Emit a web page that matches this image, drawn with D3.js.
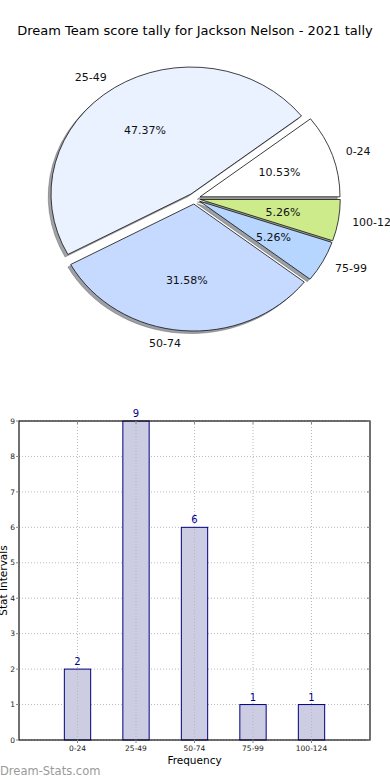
<!DOCTYPE html>
<html lang="en">
<head>
<meta charset="utf-8" />
<script src="https://cdn.jsdelivr.net/npm/d3@7"></script>
<style>
body { margin: 0; background: #fff; }
svg { display: block; font-family: "DejaVu Sans", sans-serif; }
.pieLabel { font-size: 11px; fill: #111; }
.pctLabel { font-size: 11px; fill: #111; text-anchor: middle; }
.grid { stroke: #b8b8b8; stroke-width: 1; stroke-dasharray: 1,2; }
.tickLabel { font-size: 7.5px; fill: #222; }
.barValue { font-size: 10px; fill: #00008b; text-anchor: middle; }
</style>
</head>
<body>
<script>
// data
var categories = ["0-24", "25-49", "50-74", "75-99", "100-124"];
var counts = [2, 9, 6, 1, 1];
var sliceColors = ["#ffffff", "#eaf1ff", "#c6d9ff", "#b6d6ff", "#ceeb8c"];
var yTicks = [0, 1, 2, 3, 4, 5, 6, 7, 8, 9];

var width = 390, height = 780;

var svg = d3.select("body").append("svg")
    .attr("width", width)
    .attr("height", height);

svg.append("text")
    .attr("x", 195).attr("y", 35)
    .attr("text-anchor", "middle")
    .style("font-size", "13px")
    .text("Dream Team score tally for Jackson Nelson - 2021 tally");

// ---- pie (ellipse, like a matplotlib pie on unequal axes)
var cx = 194.3, cy = 198.6, rx = 140, ry = 127, explode = 0.043;
var total = d3.sum(counts);

// matplotlib starts at 3 o'clock and goes counter-clockwise
var pie = d3.pie().sort(null).startAngle(Math.PI / 2).endAngle(Math.PI / 2 - 2 * Math.PI);
var arcs = pie(counts);
var arc = d3.arc().innerRadius(0).outerRadius(ry);

arcs.forEach(function (d, i) {
    var mid = (d.startAngle + d.endAngle) / 2;
    d.dx = Math.sin(mid);
    d.dy = -Math.cos(mid);
    d.ox = cx + explode * rx * d.dx;
    d.oy = cy + explode * ry * d.dy;
    d.name = categories[i];
    d.color = sliceColors[i];
});

var pieG = svg.append("g");

// shadows first
pieG.selectAll(".shadow")
    .data(arcs)
  .enter().append("path")
    .attr("class", "shadow")
    .attr("transform", function (d) {
        return "translate(" + (d.ox - 2.8) + "," + (d.oy + 2.5) + ") scale(" + (rx / ry) + ",1)";
    })
    .attr("d", arc)
    .attr("fill", function (d) {
        var c = d3.rgb(d.color);
        return d3.rgb(c.r * 0.3, c.g * 0.3, c.b * 0.3);
    })
    .attr("fill-opacity", 0.5)
    .attr("stroke", "#555")
    .attr("stroke-opacity", 0.5)
    .attr("stroke-width", 0.8)
    .attr("vector-effect", "non-scaling-stroke");

pieG.selectAll(".slice")
    .data(arcs)
  .enter().append("path")
    .attr("class", "slice")
    .attr("transform", function (d) {
        return "translate(" + d.ox + "," + d.oy + ") scale(" + (rx / ry) + ",1)";
    })
    .attr("d", arc)
    .attr("fill", function (d) { return d.color; })
    .attr("stroke", "#111")
    .attr("stroke-width", 0.8)
    .attr("vector-effect", "non-scaling-stroke");

pieG.selectAll(".pieLabel")
    .data(arcs)
  .enter().append("text")
    .attr("class", "pieLabel")
    .attr("x", function (d) { return d.ox + 1.1 * rx * d.dx; })
    .attr("y", function (d) { return d.oy + 1.1 * ry * d.dy; })
    .attr("dy", "0.35em")
    .attr("text-anchor", function (d) { return d.dx > 0 ? "start" : "end"; })
    .text(function (d) { return d.name; });

pieG.selectAll(".pctLabel")
    .data(arcs)
  .enter().append("text")
    .attr("class", "pctLabel")
    .attr("x", function (d) { return d.ox + 0.6 * rx * d.dx; })
    .attr("y", function (d) { return d.oy + 0.6 * ry * d.dy; })
    .attr("dy", "0.35em")
    .text(function (d) { return (d.value / total * 100).toFixed(2) + "%"; });

// ---- bar chart
var plotLeft = 19, plotRight = 370, plotTop = 421, plotBottom = 740;
var x = d3.scaleLinear().domain([-1, 5]).range([plotLeft, plotRight]);
var y = d3.scaleLinear().domain([0, 9]).range([plotBottom, plotTop]);
var barW = 0.45;

var barG = svg.append("g");

barG.selectAll(".hgrid")
    .data(yTicks)
  .enter().append("line")
    .attr("class", "grid")
    .attr("x1", plotLeft).attr("x2", plotRight)
    .attr("y1", function (d) { return y(d); })
    .attr("y2", function (d) { return y(d); });

barG.selectAll(".bar")
    .data(counts)
  .enter().append("rect")
    .attr("x", function (d, i) { return x(i - barW / 2); })
    .attr("y", function (d) { return y(d); })
    .attr("width", x(barW) - x(0))
    .attr("height", function (d) { return y(0) - y(d); })
    .attr("fill", "#cccce3")
    .attr("stroke", "#000080")
    .attr("stroke-width", 1);

barG.selectAll(".vgrid")
    .data(categories)
  .enter().append("line")
    .attr("class", "grid")
    .attr("y1", plotTop).attr("y2", plotBottom)
    .attr("x1", function (d, i) { return x(i); })
    .attr("x2", function (d, i) { return x(i); });

barG.selectAll(".barValue")
    .data(counts)
  .enter().append("text")
    .attr("class", "barValue")
    .attr("x", function (d, i) { return x(i); })
    .attr("y", function (d) { return y(d) - 4; })
    .text(function (d) { return d; });

// frame
barG.append("rect")
    .attr("x", plotLeft).attr("y", plotTop)
    .attr("width", plotRight - plotLeft).attr("height", plotBottom - plotTop)
    .attr("fill", "none")
    .attr("stroke", "#111")
    .attr("stroke-width", 1.2);

// ticks
yTicks.forEach(function (t) {
    barG.append("line").attr("x1", plotLeft - 3).attr("x2", plotLeft)
        .attr("y1", y(t)).attr("y2", y(t)).attr("stroke", "#888");
    barG.append("line").attr("x1", plotRight - 3).attr("x2", plotRight)
        .attr("y1", y(t)).attr("y2", y(t)).attr("stroke", "#888");
    barG.append("text").attr("class", "tickLabel")
        .attr("x", plotLeft - 4).attr("y", y(t)).attr("dy", "0.35em")
        .attr("text-anchor", "end").text(t);
});
categories.forEach(function (c, i) {
    barG.append("line").attr("x1", x(i)).attr("x2", x(i))
        .attr("y1", plotTop).attr("y2", plotTop + 3).attr("stroke", "#888");
    barG.append("line").attr("x1", x(i)).attr("x2", x(i))
        .attr("y1", plotBottom).attr("y2", plotBottom + 3).attr("stroke", "#888");
    barG.append("text").attr("class", "tickLabel")
        .attr("x", x(i)).attr("y", plotBottom + 11)
        .attr("text-anchor", "middle").text(c);
});

svg.append("text")
    .attr("x", (plotLeft + plotRight) / 2).attr("y", 764)
    .attr("text-anchor", "middle")
    .style("font-size", "10.5px")
    .text("Frequency");

svg.append("text")
    .attr("transform", "translate(7," + ((plotTop + plotBottom) / 2) + ") rotate(-90)")
    .attr("text-anchor", "middle")
    .style("font-size", "10.5px")
    .text("Stat Intervals");

svg.append("text")
    .attr("x", 0).attr("y", 775)
    .style("font-size", "11.5px")
    .attr("fill", "#9a9a9a")
    .text("Dream-Stats.com");
</script>
</body>
</html>
